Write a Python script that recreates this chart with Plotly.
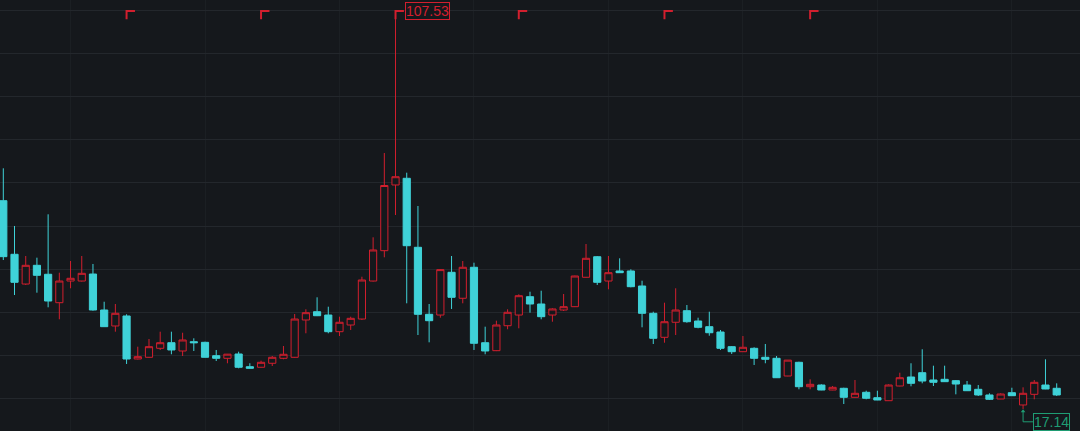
import plotly.graph_objects as go

# ---- data ----
idx = list(range(95))
opens = [64.45, 52.28, 45.53, 49.78, 47.74, 41.29, 46.21, 46.21, 47.80, 39.63,
         36.00, 38.27, 28.50, 28.89, 30.93, 32.20, 30.32, 32.43, 32.29, 29.25,
         28.66, 29.64, 26.75, 26.62, 27.53, 28.66, 28.89, 37.36, 39.24, 38.49,
         34.70, 36.22, 37.58, 46.21, 53.10, 68.02, 69.54, 53.87, 38.65, 38.49,
         48.19, 42.29, 49.33, 32.20, 30.39, 36.06, 38.49, 42.65, 40.99, 38.49,
         39.63, 40.38, 47.06, 51.73, 46.21, 48.49, 48.49, 45.08, 38.88, 33.43,
         36.84, 39.47, 37.13, 35.84, 34.63, 31.30, 30.16, 30.93, 28.89, 28.66,
         24.64, 27.75, 22.21, 22.59, 21.46, 21.85, 19.80, 20.94, 19.71, 19.03,
         22.37, 24.41, 25.39, 23.73, 23.89, 23.58, 22.59, 21.62, 20.33, 19.42,
         20.85, 18.06, 20.48, 22.59, 21.85]
highs = [71.81, 58.71, 51.89, 51.51, 61.36, 48.10, 50.76, 51.89, 50.08, 41.51,
         40.99, 38.65, 31.30, 33.04, 34.70, 34.70, 34.47, 33.20, 32.43, 30.55,
         29.64, 30.16, 27.53, 28.12, 29.18, 31.45, 38.72, 39.79, 42.51, 40.38,
         38.11, 38.11, 47.19, 56.14, 75.28, 107.53, 70.81, 63.25, 40.99, 48.87,
         51.89, 50.76, 50.37, 35.84, 37.20, 39.79, 43.19, 43.78, 44.01, 40.02,
         43.26, 47.42, 54.62, 51.89, 51.89, 51.37, 48.87, 46.28, 39.24, 41.29,
         44.56, 40.76, 37.88, 39.24, 35.09, 31.45, 33.72, 31.16, 31.91, 29.18,
         28.27, 27.89, 23.89, 22.75, 22.37, 21.98, 23.73, 21.30, 21.30, 22.75,
         25.39, 27.53, 30.71, 26.98, 26.98, 23.73, 23.51, 22.59, 20.71, 20.71,
         21.98, 22.07, 23.73, 28.43, 22.98]
lows = [50.98, 43.03, 45.31, 43.56, 40.24, 37.52, 44.56, 46.10, 39.47, 35.80,
        34.70, 27.37, 28.40, 28.80, 30.55, 29.57, 29.18, 30.32, 28.85, 28.05,
        27.53, 26.39, 26.35, 26.55, 26.91, 28.43, 28.80, 34.34, 38.25, 34.34,
        33.72, 35.09, 37.36, 46.10, 51.60, 61.20, 41.15, 33.95, 32.29, 37.88,
        39.86, 41.15, 30.55, 29.57, 30.30, 35.25, 35.47, 39.02, 37.52, 36.97,
        39.40, 40.30, 47.00, 45.31, 44.33, 48.05, 44.78, 35.70, 31.91, 32.20,
        33.95, 36.74, 35.47, 33.79, 30.55, 29.64, 30.10, 27.14, 27.53, 24.20,
        24.60, 21.62, 21.62, 21.42, 21.42, 18.28, 19.75, 19.35, 19.15, 19.00,
        22.30, 22.30, 22.98, 22.37, 23.30, 20.48, 21.25, 20.10, 19.19, 19.40,
        20.15, 17.14, 19.35, 21.65, 20.10]
closes = [51.74, 45.92, 49.78, 47.51, 41.67, 46.21, 46.83, 47.96, 39.63, 35.84,
          38.88, 28.50, 29.03, 31.30, 32.20, 30.55, 32.82, 32.20, 28.89, 28.66,
          29.60, 26.62, 26.39, 27.75, 28.89, 29.57, 37.58, 39.02, 38.33, 34.70,
          36.84, 37.74, 46.44, 53.26, 67.90, 69.90, 54.23, 38.65, 37.20, 48.80,
          42.51, 49.33, 32.07, 30.32, 36.22, 39.11, 42.88, 40.99, 38.11, 39.86,
          40.38, 47.35, 51.37, 45.92, 48.10, 48.10, 44.92, 38.88, 33.20, 36.97,
          39.63, 36.97, 35.70, 34.47, 30.93, 30.16, 31.16, 28.66, 28.43, 24.25,
          28.25, 22.21, 22.75, 21.46, 22.07, 19.80, 20.71, 19.58, 19.19, 22.59,
          24.25, 22.98, 23.50, 23.21, 23.35, 22.82, 21.30, 20.33, 19.35, 20.55,
          20.17, 20.71, 23.21, 21.69, 20.33]
marker_idx = [11, 23, 35, 46, 59, 72]
hi_label = "107.53"
lo_label = "17.14"

# ---- styles ----
BG = "#15181c"
RED = "#d21f2e"
CYAN = "#3fd2d8"
GREEN = "#1f9c73"
GRID = "#23272c"
VGRID = "#1b1f23"

hi = max(highs)
hi_i = highs.index(hi)
lo = min(lows)
lo_i = lows.index(lo)

fig = go.Figure()
fig.add_trace(go.Candlestick(
    x=idx, open=opens, high=highs, low=lows, close=closes,
    increasing=dict(line=dict(color=RED, width=1), fillcolor=BG),
    decreasing=dict(line=dict(color=CYAN, width=1), fillcolor=CYAN),
    whiskerwidth=0, hoverinfo="none", showlegend=False,
))

# top bracket markers
mx, my = [], []
for m in marker_idx:
    mx += [m + 0.75, m, m, None]
    my += [hi, hi, hi - 1.9, None]
fig.add_trace(go.Scatter(x=mx, y=my, mode="lines", line=dict(color=RED, width=2),
                         hoverinfo="skip", showlegend=False))

# low connector
fig.add_trace(go.Scatter(x=[lo_i, lo_i, lo_i + 0.88], y=[lo - 0.3, lo - 2.9, lo - 2.9],
                         mode="lines", line=dict(color=GREEN, width=1),
                         hoverinfo="skip", showlegend=False))
fig.add_trace(go.Scatter(x=[lo_i], y=[lo - 0.5], mode="markers",
                         marker=dict(symbol="triangle-up", size=4, color=GREEN),
                         hoverinfo="skip", showlegend=False))

fig.add_annotation(x=hi_i, y=hi, xref="x", yref="y", text=hi_label, showarrow=False,
                   xanchor="left", yanchor="middle", xshift=9,
                   font=dict(family="Liberation Sans, Arial", size=14, color=RED),
                   bordercolor=RED, borderwidth=1, borderpad=0, bgcolor=BG)
fig.add_annotation(x=lo_i, y=lo, xref="x", yref="y", text=lo_label, showarrow=False,
                   xanchor="left", yanchor="middle", xshift=10, yshift=-12.5,
                   font=dict(family="Liberation Sans, Arial", size=14, color=GREEN),
                   bordercolor=GREEN, borderwidth=1, borderpad=0, bgcolor=BG)

fig.update_layout(
    width=1080, height=431,
    margin=dict(l=0, r=0, t=0, b=0),
    paper_bgcolor=BG, plot_bgcolor=BG,
    showlegend=False,
    boxgap=0.36, boxgroupgap=0,
    xaxis=dict(range=[-0.295, 96.08], showticklabels=False, zeroline=False,
               showgrid=True, gridcolor=VGRID, gridwidth=1, tick0=6, dtick=12,
               rangeslider=dict(visible=False), showline=False, ticks=""),
    yaxis=dict(range=[12.15, 110.03], showticklabels=False, zeroline=False,
               showgrid=True, gridcolor=GRID, gridwidth=1, tick0=107.76, dtick=9.811,
               showline=False, ticks=""),
)

fig.write_html(
    "out.html",
    config={"displayModeBar": False, "staticPlot": True},
    post_script="document.body.style.margin='0';document.body.style.background='%s';"
                "document.body.style.overflow='hidden';" % BG,
)
